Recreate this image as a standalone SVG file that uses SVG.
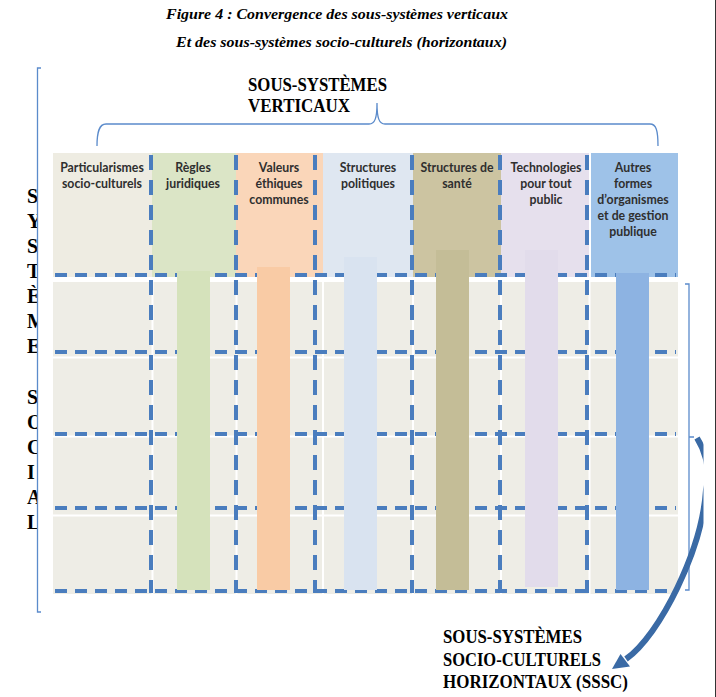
<svg xmlns="http://www.w3.org/2000/svg" width="716" height="697" viewBox="0 0 716 697">
<defs>
<style>
.title{font-family:"Liberation Serif","Times New Roman",serif;font-weight:bold;font-style:italic;font-size:15.5px;fill:#000}
.big{font-family:"Liberation Serif","Times New Roman",serif;font-weight:bold;font-size:18.5px;fill:#000}
.lbl{font-family:Lato,"Liberation Sans",sans-serif;font-weight:bold;font-size:12.3px;fill:#2f2f2f;text-anchor:middle}
.vl{font-family:"Liberation Serif","Times New Roman",serif;font-weight:bold;font-size:20px;fill:#000}
.dh{stroke:#4A7DBE;stroke-width:4;stroke-dasharray:12 8;fill:none}
.dv{stroke:#4A7DBE;stroke-width:4;stroke-dasharray:15 10;fill:none}
.br{stroke:#5B8BCB;stroke-width:1.3;fill:none}
.wl{stroke:#ffffff;stroke-width:2}
</style>
<clipPath id="clipR"><rect x="0" y="0" width="703.5" height="697"/></clipPath>
<clipPath id="clipL"><rect x="0" y="0" width="37.5" height="697"/></clipPath>
</defs>
<rect width="716" height="697" fill="#ffffff"/>
<line x1="715.5" y1="0" x2="715.5" y2="697" stroke="#333" stroke-width="1"/>

<g id="title">
<text class="title" x="166" y="19" textLength="342" lengthAdjust="spacingAndGlyphs">Figure 4 : Convergence des sous-systèmes verticaux</text>
<text class="title" x="176" y="47" textLength="331" lengthAdjust="spacingAndGlyphs">Et des sous-systèmes socio-culturels (horizontaux)</text>
</g>

<g id="label-verticaux">
<text class="big" x="248" y="91" textLength="139" lengthAdjust="spacingAndGlyphs">SOUS-SYSTÈMES</text>
<text class="big" x="248" y="112" textLength="102" lengthAdjust="spacingAndGlyphs">VERTICAUX</text>
</g>

<g id="label-systeme-social" clip-path="url(#clipL)">
<text class="vl" x="27" y="203">S</text>
<text class="vl" x="27" y="228">Y</text>
<text class="vl" x="27" y="253">S</text>
<text class="vl" x="27" y="278">T</text>
<text class="vl" x="27" y="303">È</text>
<text class="vl" x="27" y="328">M</text>
<text class="vl" x="27" y="353">E</text>
<text class="vl" x="27" y="404">S</text>
<text class="vl" x="27" y="429">O</text>
<text class="vl" x="27" y="454">C</text>
<text class="vl" x="27" y="479">I</text>
<text class="vl" x="27" y="504">A</text>
<text class="vl" x="27" y="529">L</text>
</g>

<g id="col-particularismes">
<rect x="53" y="153" width="99" height="124" fill="#EEECE2"/>
<text class="lbl" x="102" y="172">Particularismes</text>
<text class="lbl" x="102" y="188">socio-culturels</text>
</g>
<g id="col-regles">
<rect x="152" y="153" width="84" height="124" fill="#DBE5C6"/>
<text class="lbl" x="193" y="172">Règles</text>
<text class="lbl" x="193" y="188">juridiques</text>
</g>
<g id="col-valeurs">
<rect x="236" y="153" width="87" height="124" fill="#FAD6B9"/>
<text class="lbl" x="279" y="172">Valeurs</text>
<text class="lbl" x="279" y="188">éthiques</text>
<text class="lbl" x="279" y="204">communes</text>
</g>
<g id="col-politiques">
<rect x="323" y="153" width="90" height="124" fill="#DFE7F1"/>
<text class="lbl" x="368" y="172">Structures</text>
<text class="lbl" x="368" y="188">politiques</text>
</g>
<g id="col-sante">
<rect x="413" y="153" width="88" height="124" fill="#CCC4A1"/>
<text class="lbl" x="457" y="172">Structures de</text>
<text class="lbl" x="457" y="188">santé</text>
</g>
<g id="col-technologies">
<rect x="501" y="153" width="88" height="124" fill="#E6E0ED"/>
<text class="lbl" x="546" y="172">Technologies</text>
<text class="lbl" x="546" y="188">pour tout</text>
<text class="lbl" x="546" y="204">public</text>
</g>
<g id="col-autres">
<rect x="591" y="153" width="87" height="124" fill="#9EC2E8"/>
<text class="lbl" x="633" y="172">Autres</text>
<text class="lbl" x="633" y="188">formes</text>
<text class="lbl" x="633" y="204">d’organismes</text>
<text class="lbl" x="633" y="220">et de gestion</text>
<text class="lbl" x="633" y="236">publique</text>
</g>

<g id="grid-horizontal">
<rect x="53" y="282" width="625" height="312" fill="#EEEDE6"/>
<line class="wl" x1="53" y1="357.5" x2="678" y2="357.5"/>
<line class="wl" x1="53" y1="436.5" x2="678" y2="436.5"/>
<line class="wl" x1="53" y1="515.5" x2="678" y2="515.5"/>
<line class="wl" x1="152.5" y1="282" x2="152.5" y2="594"/>
<line class="wl" x1="236.5" y1="282" x2="236.5" y2="594"/>
<line class="wl" x1="323" y1="282" x2="323" y2="594"/>
<line class="wl" x1="413" y1="282" x2="413" y2="594"/>
<line class="wl" x1="501" y1="282" x2="501" y2="594"/>
<line class="wl" x1="589.5" y1="282" x2="589.5" y2="594"/>
</g>

<g id="dashed-horizontal">
<line class="dh" x1="55" y1="275" x2="676" y2="275"/>
<line class="dh" x1="55" y1="352" x2="676" y2="352"/>
<line class="dh" x1="55" y1="434" x2="676" y2="434"/>
<line class="dh" x1="55" y1="508" x2="676" y2="508"/>
<line class="dh" x1="55" y1="591" x2="676" y2="591"/>
</g>

<g id="bars">
<rect id="bar-regles" x="177" y="271" width="33" height="319" fill="#D5E2BB"/>
<rect id="bar-valeurs" x="257" y="267" width="33" height="323" fill="#F9CBA5"/>
<rect id="bar-politiques" x="344" y="257" width="33" height="333" fill="#D9E3F0"/>
<rect id="bar-sante" x="436" y="250" width="33" height="340" fill="#C4BD97"/>
<rect id="bar-technologies" x="525" y="250" width="33" height="337" fill="#E2DCEB"/>
<rect id="bar-autres" x="616" y="273" width="33" height="317" fill="#8DB3E2"/>
</g>

<g id="dashed-vertical">
<line class="dv" x1="151" y1="155" x2="151" y2="593"/>
<line class="dv" x1="236" y1="155" x2="236" y2="593"/>
<line class="dv" x1="315" y1="155" x2="315" y2="593"/>
<line class="dv" x1="412" y1="155" x2="412" y2="593"/>
<line class="dv" x1="500" y1="155" x2="500" y2="593"/>
<line class="dv" x1="587" y1="155" x2="587" y2="593"/>
</g>

<g id="label-horizontaux">
<text class="big" x="443" y="643" textLength="139" lengthAdjust="spacingAndGlyphs">SOUS-SYSTÈMES</text>
<text class="big" x="443" y="666" textLength="158" lengthAdjust="spacingAndGlyphs">SOCIO-CULTURELS</text>
<text class="big" x="443" y="688" textLength="185" lengthAdjust="spacingAndGlyphs">HORIZONTAUX (SSSC)</text>
</g>

<g id="connectors">
<path class="br" d="M41 68 L37.5 68 L37.5 612 L41 612"/>
<path class="br" d="M97 146 C97 132 99 124 106 124 L369 124 C375 124 377 118 377 103 C377 118 379 124 385 124 L650 124 C656 124 658 130 658 146"/>
<path class="br" d="M685 284 L689 284 L689 590 L685 590 M689 437 L694 437"/>
<g clip-path="url(#clipR)">
<path d="M697 438 C702 446 712 466 706 490 C702 550 660 635 626 659" fill="none" stroke="#3A6AA5" stroke-width="6"/>
<polygon points="612,669 620.5,654 630,666.5" fill="#3A6AA5"/>
</g>
</g>
</svg>
